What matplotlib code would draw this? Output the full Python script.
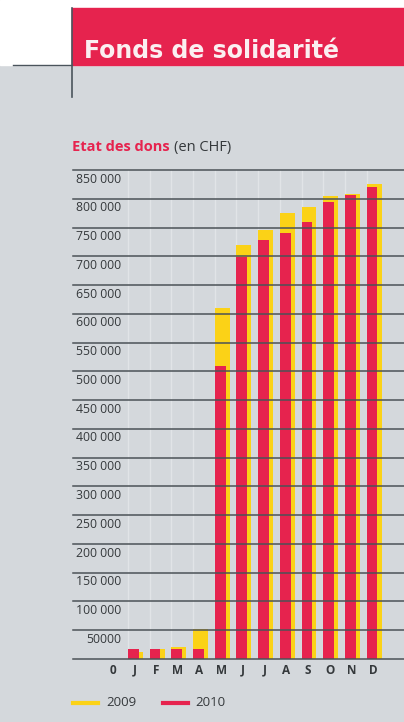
import matplotlib
matplotlib.use("Agg")
import matplotlib.pyplot as plt
from matplotlib.lines import Line2D
from matplotlib.patches import Rectangle

# data (CHF, cumulative)
months = ["J", "F", "M", "A", "M", "J", "J", "A", "S", "O", "N", "D"]
dons_2009 = [12000, 18000, 21000, 52000, 610000, 720000, 746000, 776000, 786000, 805000, 809000, 825000]
dons_2010 = [17000, 17000, 17000, 17000, 510000, 698000, 729000, 740000, 760000, 795000, 807000, 821000]
yticks = [50000, 100000, 150000, 200000, 250000, 300000, 350000, 400000,
          450000, 500000, 550000, 600000, 650000, 700000, 750000, 800000, 850000]
ytick_labels = ["50000"] + [f"{v // 1000} 000" for v in yticks[1:]]

W, H = 404, 722
BG = "#d4d8dc"
RED = "#e6234e"
YEL = "#fbd217"
GRID = "#4b5257"
TXT = "#35393c"
plt.rcParams["font.family"] = ["Open Sans", "DejaVu Sans"]


def fx(px):
    return px / W


def fy(py):
    return 1 - py / H


fig = plt.figure(figsize=(W / 100, H / 100), dpi=100, facecolor=BG)

# header: white strip, red title box, dark rules
fig.add_artist(Rectangle((0, fy(65)), 1, 65 / H, transform=fig.transFigure, color="white", zorder=0))
fig.add_artist(Rectangle((fx(72), fy(65)), 1 - fx(72), 57 / H, transform=fig.transFigure, color=RED, zorder=1))
fig.add_artist(Line2D([fx(13), fx(72)], [fy(65), fy(65)], color="#4a545c", lw=1, zorder=2))
fig.add_artist(Line2D([fx(72), fx(72)], [fy(8), fy(97)], color="#4a545c", lw=1.2, zorder=2))
fig.text(fx(84), fy(58), "Fonds de solidarité", color="#fbeff1", fontsize=17,
         fontweight="bold", family=["DejaVu Sans"], va="baseline", ha="left")

# subtitle: red bold part, then the unit right after it
sub = fig.text(fx(72), fy(151), "Etat des dons", color=RED, fontsize=10.5,
               fontweight="bold", va="baseline")
bb = sub.get_window_extent(renderer=fig.canvas.get_renderer())
fig.text(bb.x1 / W + fx(4), fy(151), "(en CHF)", color=TXT, fontsize=10.5, va="baseline")

# plot area in pixels: x 73..404, y 170 (850 000) .. 659 (0)
step = 21.7
x0 = 135.5
ax = fig.add_axes([fx(73), fy(659), fx(404) - fx(73), (659 - 170) / H])
ax.set_facecolor(BG)
ax.set_xlim(-(x0 - 73) / step, (404 - x0) / step)
ax.set_ylim(0, 850000)
for s in ax.spines.values():
    s.set_visible(False)
ax.set_xticks([])
ax.set_yticks([])

xs = list(range(len(months)))
for i in xs:
    ax.axvline(i - 0.35, color="#e1e4e7", lw=1, zorder=0)
ax.bar([i - 0.35 for i in xs], dons_2009, width=0.69, align="edge", color=YEL, zorder=2)
ax.bar([i - 0.35 for i in xs], dons_2010, width=0.5, align="edge", color=RED, zorder=3)

for v in [0] + yticks:
    ax.axhline(v, color=GRID, lw=1.1, zorder=4, clip_on=False)
for v, lab in zip(yticks, ytick_labels):
    ax.text((121 - x0) / step, v - 4500, lab, ha="right", va="top",
            fontsize=8.8, color=TXT, zorder=5)

# month labels
for i, m in enumerate(["0"] + months):
    ax.text(i - 1 - 0.05, -8000, m, ha="center", va="top", fontsize=8.5, color=TXT,
            fontweight="bold", clip_on=False)

# legend
fig.add_artist(Line2D([fx(73), fx(98)], [fy(703), fy(703)], color=YEL, lw=3))
fig.text(fx(106), fy(703), "2009", color=TXT, fontsize=9.5, va="center")
fig.add_artist(Line2D([fx(163), fx(188)], [fy(703), fy(703)], color=RED, lw=3))
fig.text(fx(195), fy(703), "2010", color=TXT, fontsize=9.5, va="center")

fig.savefig("out.png", dpi=100, facecolor=BG)
